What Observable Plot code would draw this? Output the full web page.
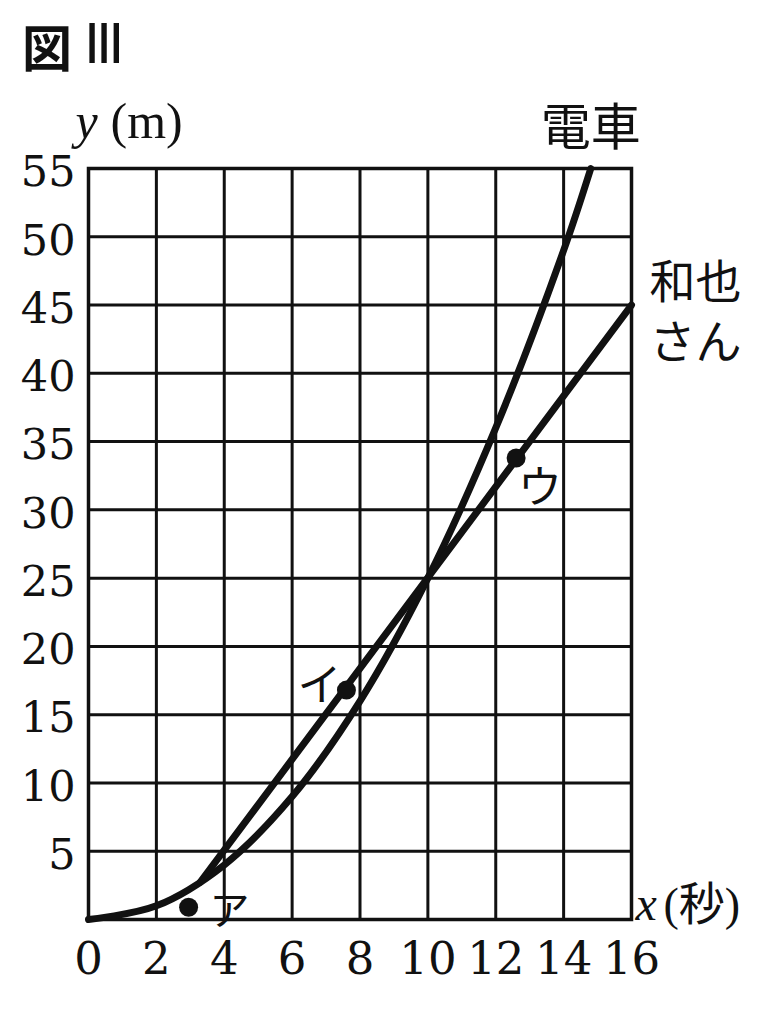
<!DOCTYPE html>
<html><head><meta charset="utf-8">
<script src="https://cdn.jsdelivr.net/npm/d3@7"></script>
<script src="https://cdn.jsdelivr.net/npm/@observablehq/plot@0.6"></script>
<style>
body{margin:0;background:#fff;width:765px;overflow:hidden;}
#title{height:90px;position:relative;}
#title .zu{position:absolute;left:22px;top:20px;font:700 50px/1 "Noto Sans CJK JP";color:#111;}
#title .num{position:absolute;left:84px;top:14px;font:400 58px/1 "Liberation Sans";letter-spacing:-4px;color:#111;}
#chart svg{display:block;}
</style></head><body>
<div id="title"><span class="zu">図</span><span class="num">III</span></div>
<div id="chart"></div>
<script>
// tick labels
const xTicks = [0, 2, 4, 6, 8, 10, 12, 14, 16];
const yTicks = [5, 10, 15, 20, 25, 30, 35, 40, 45, 50, 55];
// 電車 (train) curve
const trainX = [0, 2, 4, 6, 8, 10, 12, 14, 14.8];
const trainY = [0, 1, 4, 9, 16, 25, 36, 49, 55];
// 和也さん line
const kazuyaX = [3.3, 16];
const kazuyaY = [2.75, 45];
// marked points
const pointNames = ["ア", "イ", "ウ"];
const pointX = [2.95, 7.6, 12.6];
const pointY = [0.9, 16.8, 33.8];
// series labels
const trainLabel = "電車";
const kazuyaLabel = ["和也", "さん"];

const train = trainX.map((x, i) => ({x, y: trainY[i]}));
const kazuya = kazuyaX.map((x, i) => ({x, y: kazuyaY[i]}));
const points = pointNames.map((name, i) => ({name, x: pointX[i], y: pointY[i]}));

const ink = "#111";
const jp = "Noto Sans CJK JP";
const serif = "Liberation Serif, Noto Sans CJK JP";

const plot = Plot.plot({
  width: 765, height: 934,
  marginTop: 78, marginBottom: 105, marginLeft: 88, marginRight: 134,
  x: {domain: [0, 16]},
  y: {domain: [0, 55]},
  style: {fontFamily: "DejaVu Serif", background: "#fff", color: ink, overflow: "visible"},
  marks: [
    Plot.gridX(xTicks, {stroke: ink, strokeOpacity: 1, strokeWidth: 3}),
    Plot.gridY(yTicks, {stroke: ink, strokeOpacity: 1, strokeWidth: 3}),
    Plot.frame({stroke: ink, strokeWidth: 3.5}),
    Plot.axisX(xTicks, {tickSize: 0, tickPadding: 23, fontSize: 45, label: null, fill: ink}),
    Plot.axisY(yTicks, {tickSize: 0, tickPadding: 13, fontSize: 43, label: null, fill: ink, dy: 4}),
    Plot.line(train, {x: "x", y: "y", curve: "catmull-rom", stroke: ink, strokeWidth: 7}),
    Plot.line(kazuya, {x: "x", y: "y", stroke: ink, strokeWidth: 7}),
    Plot.dot(points, {x: "x", y: "y", r: 9.5, fill: ink}),
    Plot.text(points, {filter: d => d.name === "ア", x: "x", y: "y", text: "name", dx: 41, dy: 5, fontSize: 40, fontFamily: jp, fill: ink}),
    Plot.text(points, {filter: d => d.name === "イ", x: "x", y: "y", text: "name", dx: -27, dy: -3, fontSize: 44, fontFamily: jp, fill: ink}),
    Plot.text(points, {filter: d => d.name === "ウ", x: "x", y: "y", text: "name", dx: 24, dy: 31, fontSize: 44, fontFamily: jp, fill: ink}),
    Plot.text(train, Plot.selectLast({x: "x", y: "y", text: () => trainLabel, dy: -40, fontSize: 50, fontFamily: jp, fill: ink})),
    Plot.text(kazuya, Plot.selectLast({x: "x", y: "y", text: () => kazuyaLabel[0], dx: 64, dy: -22, fontSize: 46, fontFamily: jp, fill: ink})),
    Plot.text(kazuya, Plot.selectLast({x: "x", y: "y", text: () => kazuyaLabel[1], dx: 64, dy: 38, fontSize: 46, fontFamily: jp, fill: ink})),
    // axis titles
    Plot.text(["y"], {frameAnchor: "top-left", text: d => d, textAnchor: "start", dx: -13, dy: -66, fontSize: 50, fontStyle: "italic", fontFamily: "Liberation Serif", fill: ink}),
    Plot.text(["(m)"], {frameAnchor: "top-left", text: d => d, textAnchor: "start", dx: 22, dy: -66, fontSize: 50, fontFamily: serif, fill: ink}),
    Plot.text(["x"], {frameAnchor: "bottom-right", text: d => d, textAnchor: "start", dx: 4, dy: 0, fontSize: 48, fontStyle: "italic", fontFamily: "Liberation Serif", fill: ink}),
    Plot.text(["(秒)"], {frameAnchor: "bottom-right", text: d => d, textAnchor: "start", dx: 32, dy: 0, fontSize: 46, fontFamily: serif, fill: ink})
  ]
});
document.getElementById("chart").appendChild(plot);
</script>
</body></html>
